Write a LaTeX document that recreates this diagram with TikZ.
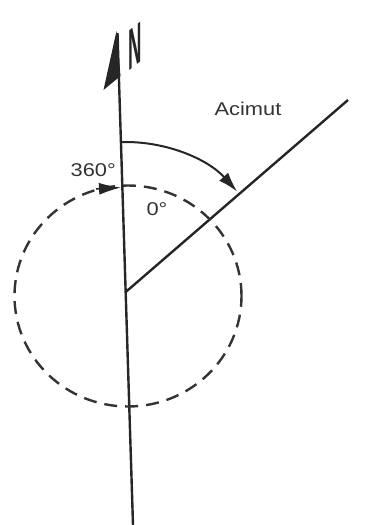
\documentclass[tikz,border=0pt]{standalone}
\usepackage{fontspec}
\newfontfamily\lab{Liberation Sans}
\usetikzlibrary{arrows.meta}
\begin{document}
\begin{tikzpicture}[x=1pt,y=1pt,
  stroke/.style={line width=2.4pt, black!85},
  dashcircle/.style={line width=2.4pt, black!80, dash pattern=on 13pt off 8pt},
  lbl/.style={font=\lab\fontsize{18.5}{20}\selectfont, text=black!80, inner sep=0pt, anchor=base, xscale=1.18}]
\useasboundingbox (0,0) rectangle (386,-525);
% key points
\coordinate (T) at (117.5,-33);
\coordinate (B) at (133,-525);
\coordinate (O) at (125.7,-292);
\coordinate (E) at (348,-100);
\coordinate (C) at (128,-296);
% north line and azimuth line
\draw[stroke] (T) -- (B);
\draw[stroke] (O) -- (E);
% north half-arrowhead
\fill[black!85] (116.5,-31) -- (120.5,-76) -- (103.5,-90) -- cycle;
% N letter
\node[font=\lab\bfseries\fontsize{58}{58}\selectfont, text=black!85, inner sep=0pt, xscale=0.32, yslant=0.25] (nl) at (135,-46) {N};
% dashed circle
\draw[dashcircle] (C) ellipse[x radius=113.5, y radius=110.5];
% 360 arrowhead on circle
\draw[line width=1.5pt, black!85, -{Latex[length=22pt,width=12pt]}] (96,-189) -- (121,-187.5);
% azimuth arc
\draw[line width=2pt, black!85, -{Latex[length=20pt,width=12pt]}] (O) ++(91.8:150) arc[start angle=91.8, end angle=42, radius=150];
% labels
\node[lbl] (acimut) at (248,-115.7) {Acimut};
\node[lbl] (l360) at (93.3,-176.7) {360°};
\node[lbl] (l0) at (157,-215) {0°};
\end{tikzpicture}
\end{document}
